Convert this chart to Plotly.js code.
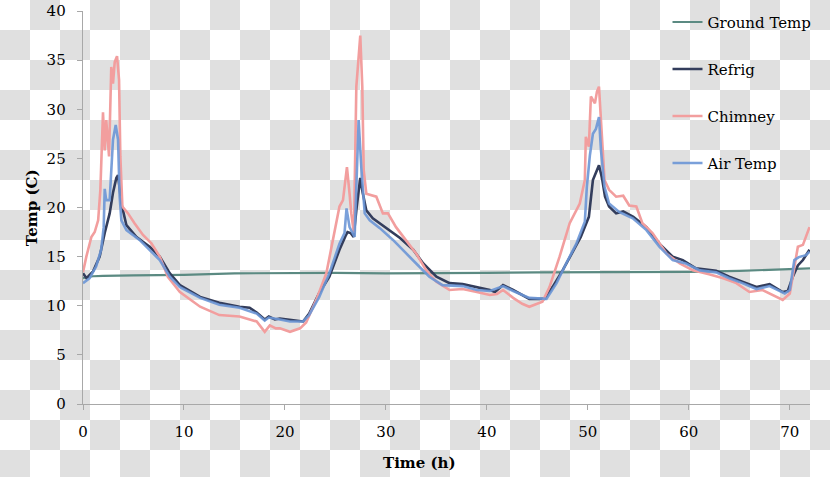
<!DOCTYPE html>
<html>
<head>
<meta charset="utf-8">
<script src="https://cdn.plot.ly/plotly-3.0.1.min.js"></script>
<style>
html,body{margin:0;padding:0;width:830px;height:477px;overflow:hidden;
background: repeating-conic-gradient(#e0e0e0 0 25%, #ffffff 0 50%) 0 0/60px 60px;}
#chart{width:830px;height:477px;}
</style>
</head>
<body>
<div id="chart"></div>
<script>
// Data
const groundT = [0,0.3,1,2,5,10,15,20,25,30,35,40,45,50,55,60,65,68,70,72];
const groundV = [12.8,12.9,13.0,13.05,13.1,13.15,13.3,13.35,13.35,13.3,13.3,13.35,13.4,13.4,13.4,13.45,13.55,13.65,13.7,13.8];

const refrigT = [0,0.35,1.0,1.65,2.15,2.4,2.64,2.97,3.3,3.47,3.65,3.8,4.3,5.3,6.6,7.6,8.6,9.6,11.6,13.5,15.5,16.5,17.2,18.0,18.4,19.0,19.5,20.5,21.8,22.4,23.4,24.4,25.4,26.0,26.2,26.5,26.8,27.1,27.46,27.7,28.06,28.7,30.0,31.4,32.7,33.7,35.0,36.3,37.6,39.0,40.3,40.8,41.6,42.6,44.2,45.7,46.5,47.5,48.5,49.3,50.1,50.5,51.1,51.4,51.7,52.1,52.8,53.5,54.5,55.8,57.1,58.4,59.4,60.7,62.7,64.0,65.3,66.7,68.0,69.3,69.8,70.3,70.8,71.3,71.95];
const refrigV = [13.3,12.8,13.5,15.0,17.4,18.3,19.4,21.5,23.0,23.3,22.0,20.4,18.2,17.0,16.0,15.0,13.3,12.1,10.9,10.3,9.9,9.8,9.3,8.6,8.9,8.6,8.7,8.55,8.4,9.2,11.3,12.95,15.7,17.1,17.5,17.4,17.0,20.0,23.0,21.5,19.7,18.9,17.9,16.9,15.7,14.3,12.95,12.3,12.2,11.9,11.6,11.4,12.1,11.6,10.7,10.7,11.9,13.6,15.5,17.0,19.05,22.8,24.3,23.0,21.1,20.1,19.4,19.6,19.05,18.0,16.3,15.0,14.65,13.8,13.55,12.95,12.45,11.9,12.2,11.4,11.5,12.95,14.1,14.65,15.7];

const chimneyT = [0,0.33,0.83,1.16,1.5,1.72,1.98,2.15,2.3,2.58,2.8,2.97,3.14,3.37,3.57,3.7,3.9,4.46,5.1,5.94,6.77,7.6,8.4,9.6,11.6,13.5,15.5,17.2,18.0,18.5,19.1,19.5,20.5,21.5,22.1,23.1,24.1,24.75,25.4,25.75,26.14,26.4,26.57,26.83,27.07,27.2,27.46,27.66,27.8,28.06,29.05,29.7,30.2,31.0,32.0,33.0,34.0,35.0,36.3,37.6,39.0,40.3,41.0,41.6,42.6,43.5,44.2,45.5,46.2,47.2,48.2,49.2,49.7,49.8,50.1,50.3,50.7,50.9,51.1,51.3,51.65,52.1,52.8,53.5,54.1,54.8,55.4,56.4,57.8,59.1,60.4,62.0,63.4,64.7,66.0,67.3,68.65,69.3,70.0,70.45,70.8,71.3,71.95];
const chimneyV = [13.4,15.0,17.0,17.5,18.7,21.8,29.7,25.8,28.9,25.2,34.3,32.6,34.8,35.4,33.0,25.2,20.1,19.4,18.4,17.2,16.35,15.0,12.95,11.4,9.9,9.05,8.9,8.4,7.35,8.0,7.7,7.7,7.35,7.7,8.3,10.6,13.3,16.7,20.1,20.75,24.1,21.4,19.4,17.4,32.3,34.0,37.5,32.3,23.8,21.4,21.1,19.4,19.4,18.0,16.7,15.3,13.6,12.45,11.6,11.7,11.4,11.1,11.2,11.6,10.8,10.2,9.9,10.4,11.9,15.0,18.4,20.4,22.8,27.2,26.2,31.3,30.6,31.8,32.3,28.9,22.8,21.8,21.1,21.2,20.2,20.1,18.4,17.4,15.3,14.3,13.6,13.2,12.8,12.3,11.4,11.6,10.9,10.6,11.25,14.0,16.0,16.2,18.0];

const airT = [0,0.66,1.3,1.8,2.05,2.15,2.3,2.64,2.97,3.1,3.24,3.47,3.63,3.8,4.3,5.6,6.6,7.6,8.6,9.6,11.6,13.5,15.5,17.2,18.0,18.4,19.5,20.5,21.8,22.4,23.4,24.4,25.4,25.9,26.1,26.4,26.9,27.3,27.56,27.9,28.4,29.4,30.7,32.0,33.0,34.3,35.6,37.6,39.0,40.3,41.6,42.6,44.2,45.9,46.9,47.85,48.85,49.7,49.9,50.2,50.5,50.8,51.1,51.3,51.65,52.1,53.1,54.45,55.8,57.1,58.4,59.7,61.1,62.7,64.0,65.3,66.7,68.0,69.5,70.0,70.45,70.9,71.6,71.95];
const airV = [12.3,12.8,14.0,15.7,18.0,21.9,20.75,20.75,26.9,27.5,28.4,26.9,21.1,18.7,17.7,16.7,15.7,14.65,12.95,11.9,10.8,10.1,9.8,9.2,8.5,8.8,8.6,8.4,8.4,9.05,10.9,13.3,16.3,17.4,19.9,18.0,17.0,28.9,24.1,19.4,18.7,17.9,16.7,15.3,14.3,12.95,12.1,12.0,11.6,11.5,12.0,11.5,10.8,10.7,12.3,14.3,16.3,18.55,22.1,25.3,27.5,28.0,29.2,25.8,22.1,20.4,19.55,18.9,17.7,16.0,14.65,14.3,13.6,13.4,12.8,12.3,11.7,12.0,11.25,11.6,14.65,14.95,15.15,15.5];

const seriesNames = ['Ground Temp','Refrig','Chimney','Air Temp'];
const xTitle = 'Time (h)';
const yTitle = 'Temp (C)';

const FONT = 'DejaVu Serif, Liberation Serif, serif';

const traces = [
  {x: groundT, y: groundV, name: seriesNames[0], line:{color:'#5b8a82', width:2.2}},
  {x: refrigT, y: refrigV, name: seriesNames[1], line:{color:'#333d5c', width:2.6}},
  {x: chimneyT, y: chimneyV, name: seriesNames[2], line:{color:'#f29e9e', width:2.6}},
  {x: airT, y: airV, name: seriesNames[3], line:{color:'#6b96d6', width:2.6}, opacity:0.9}
].map((t,i)=>Object.assign({type:'scatter', mode:'lines', legendgroup:'g'+i, hoverinfo:'skip'}, t));

const layout = {
  width: 830, height: 477,
  margin: {l:83, r:19.5, t:11, b:73, pad:0, autoexpand:false},
  paper_bgcolor: 'rgba(0,0,0,0)',
  plot_bgcolor: 'rgba(0,0,0,0)',
  font: {family: FONT, size: 15, color:'#000'},
  showlegend: true,
  legend: {
    x: 0.804, xanchor:'left', y: 1.0133, yanchor:'top',
    bgcolor:'rgba(0,0,0,0)', borderwidth:0,
    font:{family:FONT, size:15, color:'#000'},
    traceorder:'grouped', tracegroupgap: 24.5,
    itemwidth: 30
  },
  xaxis: {
    range:[0,72], dtick:10, tick0:0,
    showgrid:false, zeroline:false,
    showline:true, linecolor:'#a8a8a8', linewidth:1.3,
    ticks:'outside', ticklen:5, tickcolor:'#a8a8a8', tickwidth:1,
    ticklabelstandoff: 9,
    tickfont:{family:FONT, size:15, color:'#000'}
  },
  yaxis: {
    range:[0,40], dtick:5, tick0:0,
    showgrid:false, zeroline:false,
    showline:true, linecolor:'#a8a8a8', linewidth:1.3,
    ticks:'outside', ticklen:5, tickcolor:'#a8a8a8', tickwidth:1,
    ticklabelstandoff: 8,
    tickfont:{family:FONT, size:15, color:'#000'}
  },
  annotations: [
    {text:'<b>'+xTitle+'</b>', xref:'paper', yref:'paper', x:0.463, y:-0.15,
     xanchor:'center', yanchor:'middle', showarrow:false,
     font:{family:FONT, size:15, color:'#000'}},
    {text:'<b>'+yTitle+'</b>', xref:'paper', yref:'paper', x:-0.0706, y:0.5,
     xanchor:'center', yanchor:'middle', showarrow:false, textangle:-90,
     font:{family:FONT, size:15, color:'#000'}}
  ]
};

Plotly.newPlot('chart', traces, layout, {displayModeBar:false, staticPlot:true});
</script>
</body>
</html>
